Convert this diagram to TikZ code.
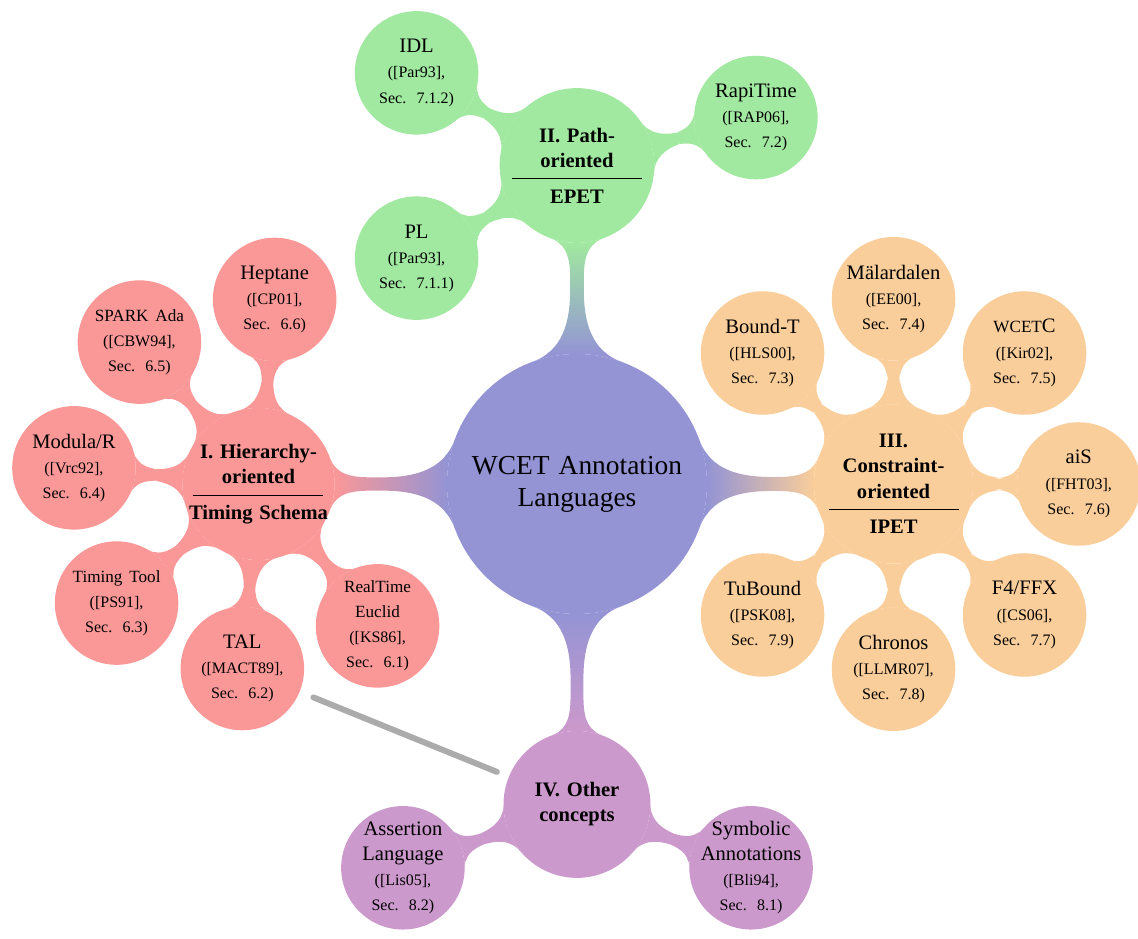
\documentclass[tikz,border=0pt]{standalone}
\usepackage{fontspec}
\setmainfont{Liberation Serif}
\usetikzlibrary{mindmap,calc}

\definecolor{rootblue}{RGB}{148,148,212}
\definecolor{hierred}{RGB}{250,152,152}
\definecolor{pathgreen}{RGB}{161,232,160}
\definecolor{constrorange}{RGB}{250,206,155}
\definecolor{otherviolet}{RGB}{204,153,204}

\newcommand{\smallname}{\fontsize{7.5}{11}\selectfont}
\newcommand{\refsec}[2]{\\{\fontsize{7}{11}\selectfont([#1],\\Sec. #2)}}
\newcommand{\hubrule}{\\[-5.8pt]\rule{2cm}{0.4pt}\\[-0.6pt]}

\begin{document}
\begin{tikzpicture}[mindmap,
    rootnode/.style={concept, draw=none, fill=rootblue, text=black, minimum size=4cm, text width=3.6cm,
                     inner sep=0pt, outer sep=0pt, font=\fontsize{12}{14}\selectfont},
    hub/.style={concept, draw=none, fill=#1, text=black, text width=2.15cm, inner sep=-3mm, outer sep=0pt,
                font=\fontsize{9}{11}\selectfont\bfseries},
    leaf/.style={concept, draw=none, fill=#1, text=black, minimum size=1.9cm, text width=1.75cm,
                 inner sep=-3mm, outer sep=0pt, font=\fontsize{9}{11}\selectfont},
    link/.style args={#1 to #2}{circle connection bar switch color=from (#1) to (#2),
                                every circle connection bar/.append style={middle color=#1}}]
  \useasboundingbox (-8.877,-6.985) rectangle (8.631,7.446);

  % root and the four families
  \node[rootnode] (root) at (0,0) {WCET Annotation\\Languages};
  \node[hub=hierred, minimum size=2.34cm] (hier) at (180:4.9) {I. Hierarchy-\\oriented\hubrule Timing Schema};
  \node[hub=pathgreen, minimum size=2.38cm] (path) at (90:4.9) {II. Path-\\oriented\hubrule EPET};
  \node[hub=constrorange, minimum size=2.45cm] (constr) at (0:4.87) {III.\\Constraint-\\oriented\hubrule IPET};
  \node[hub=otherviolet, minimum size=2.26cm] (other) at (270:4.93) {IV. Other\\concepts};

  % I. hierarchy-oriented
  \node[leaf=hierred] (heptane) at ($(hier)+(85:2.85)$) {Heptane\refsec{CP01}{6.6}};
  \node[leaf=hierred] (spark) at ($(hier)+(130:2.85)$) {{\smallname SPARK Ada}\refsec{CBW94}{6.5}};
  \node[leaf=hierred] (modula) at ($(hier)+(175:2.85)$) {Modula/R\refsec{Vrc92}{6.4}};
  \node[leaf=hierred] (timingtool) at ($(hier)+(220:2.85)$) {{\smallname Timing Tool}\refsec{PS91}{6.3}};
  \node[leaf=hierred] (tal) at ($(hier)+(265:2.85)$) {TAL\refsec{MACT89}{6.2}};
  \node[leaf=hierred] (euclid) at ($(hier)+(310:2.85)$) {{\smallname RealTime\\Euclid}\refsec{KS86}{6.1}};

  % II. path-oriented
  \node[leaf=pathgreen] (rapitime) at ($(path)+(15:2.85)$) {RapiTime\refsec{RAP06}{7.2}};
  \node[leaf=pathgreen] (idl) at ($(path)+(150:2.85)$) {IDL\refsec{Par93}{7.1.2}};
  \node[leaf=pathgreen] (pl) at ($(path)+(210:2.85)$) {PL\refsec{Par93}{7.1.1}};

  % III. constraint-oriented
  \node[leaf=constrorange] (ais) at ($(constr)+(0:2.85)$) {aiS\refsec{FHT03}{7.6}};
  \node[leaf=constrorange] (wcetc) at ($(constr)+(45:2.85)$) {{\smallname WCET}C\refsec{Kir02}{7.5}};
  \node[leaf=constrorange] (malardalen) at ($(constr)+(90:2.85)$) {Mälardalen\refsec{EE00}{7.4}};
  \node[leaf=constrorange] (boundt) at ($(constr)+(135:2.85)$) {Bound-T\refsec{HLS00}{7.3}};
  \node[leaf=constrorange] (tubound) at ($(constr)+(225:2.85)$) {TuBound\refsec{PSK08}{7.9}};
  \node[leaf=constrorange] (chronos) at ($(constr)+(270:2.85)$) {Chronos\refsec{LLMR07}{7.8}};
  \node[leaf=constrorange] (f4ffx) at ($(constr)+(315:2.85)$) {F4/FFX\refsec{CS06}{7.7}};

  % IV. other concepts
  \node[leaf=otherviolet] (assertion) at ($(other)+(200:2.85)$) {Assertion\\Language\refsec{Lis05}{8.2}};
  \node[leaf=otherviolet] (symbolic) at ($(other)+(340:2.85)$) {Symbolic\\Annotations\refsec{Bli94}{8.1}};

  % connections
  \path (root) to[link=rootblue to hierred] (hier);
  \path (root) to[link=rootblue to pathgreen] (path);
  \path (root) to[link=rootblue to constrorange] (constr);
  \path (root) to[link=rootblue to otherviolet] (other);
  \foreach \leaf in {heptane,spark,modula,timingtool,tal,euclid}
    \path (hier) to[link=hierred to hierred] (\leaf);
  \foreach \leaf in {rapitime,idl,pl}
    \path (path) to[link=pathgreen to pathgreen] (\leaf);
  \foreach \leaf in {ais,wcetc,malardalen,boundt,tubound,chronos,f4ffx}
    \path (constr) to[link=constrorange to constrorange] (\leaf);
  \foreach \leaf in {assertion,symbolic}
    \path (other) to[link=otherviolet to otherviolet] (\leaf);

  % cross reference
  \draw[line width=2.6pt, black!33, line cap=round, shorten <=2.3mm, shorten >=2mm] (tal) -- (other);
\end{tikzpicture}
\end{document}
